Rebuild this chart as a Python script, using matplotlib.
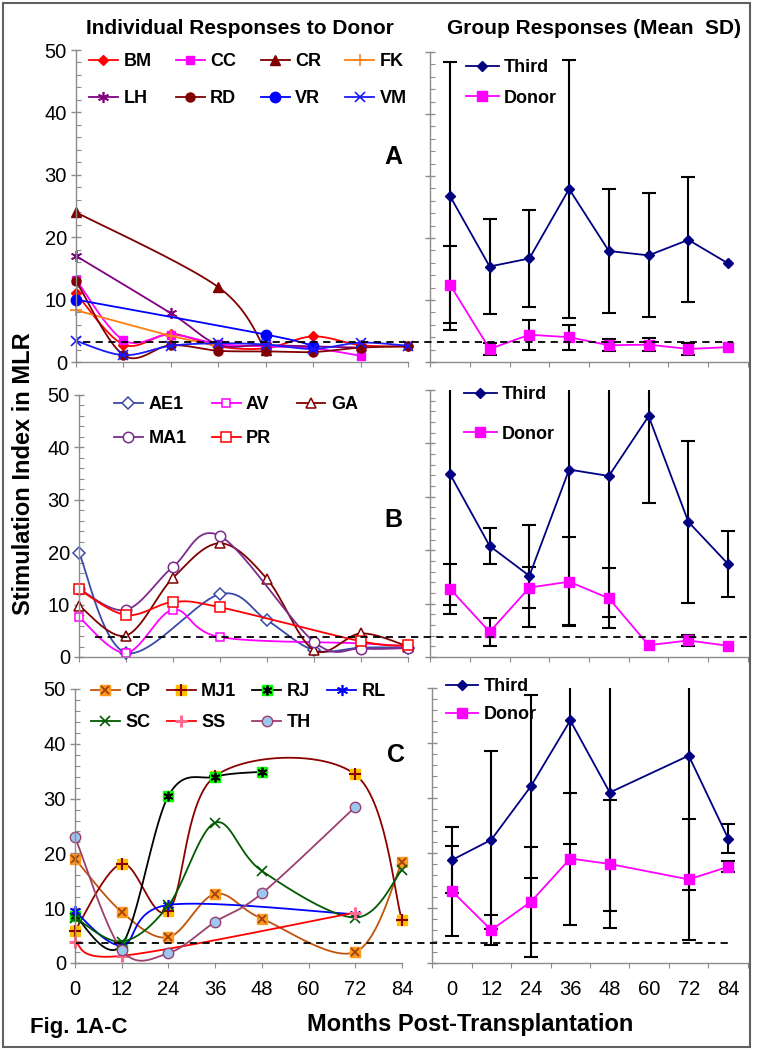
import numpy as np
import matplotlib
matplotlib.use("Agg")
import matplotlib.pyplot as plt
from matplotlib.lines import Line2D
from matplotlib.patches import Rectangle

plt.rcParams["font.family"] = ["Liberation Sans", "DejaVu Sans"]

# ---------------- data ----------------
months = [0, 12, 24, 36, 48, 60, 72, 84]

# Panel A, individual responses to donor
a_names = ["BM", "CC", "CR", "FK", "LH", "RD", "VR", "VM"]
a_months = [
    [0, 12, 24, 36, 48, 60, 72, 84],
    [0, 12, 24, 36, 48, 60, 72],
    [0, 36, 48],
    [0, 24, 36],
    [0, 24, 36, 48, 72],
    [0, 12, 24, 36, 48, 60, 72, 84],
    [0, 48, 60],
    [0, 12, 24, 36, 48, 60, 72, 84],
]
a_values = [
    [11.0, 2.8, 4.5, 2.5, 2.2, 4.1, 2.7, 2.5],
    [13.2, 3.5, 4.4, 2.9, 2.5, 2.2, 1.0],
    [24.0, 12.0, 1.9],
    [8.3, 4.2, 2.6],
    [17.0, 7.8, 2.8, 2.7, 2.3],
    [13.0, 1.1, 2.7, 1.8, 1.7, 1.6, 2.3, 2.5],
    [10.0, 4.4, 2.6],
    [3.4, 1.1, 2.6, 3.0, 2.8, 2.1, 3.1, 2.6],
]

# Panel B
b_names = ["AE1", "AV", "GA", "MA1", "PR"]
b_months = [
    [0, 12, 36, 48, 60, 72, 84],
    [0, 12, 24, 36, 72, 84],
    [0, 12, 24, 36, 48, 60, 72, 84],
    [0, 12, 24, 36, 60, 72, 84],
    [0, 12, 24, 36, 72, 84],
]
b_values = [
    [19.9, 0.8, 12.0, 7.0, 1.3, 1.8, 1.8],
    [7.6, 0.8, 9.0, 3.8, 2.6, 2.0],
    [9.8, 4.1, 15.1, 21.7, 14.9, 1.3, 4.5, 2.0],
    [13.0, 9.0, 17.2, 23.1, 2.9, 1.6, 1.7],
    [12.9, 8.0, 10.5, 9.5, 3.0, 2.2],
]

# Panel C
c_names = ["CP", "MJ1", "RJ", "RL", "SC", "SS", "TH"]
c_months = [
    [0, 12, 24, 36, 48, 72, 84],
    [0, 12, 24, 36, 72, 84],
    [0, 12, 24, 36, 48],
    [0, 12, 24, 72],
    [0, 12, 24, 36, 48, 72, 84],
    [0, 12, 72],
    [0, 12, 24, 36, 48, 72],
]
c_values = [
    [19.0, 9.3, 4.7, 12.6, 8.1, 2.0, 18.4],
    [5.9, 18.1, 9.5, 34.1, 34.4, 7.8],
    [8.6, 3.3, 30.5, 34.0, 34.9],
    [9.4, 3.2, 10.6, 8.9],
    [8.3, 3.9, 10.5, 25.6, 16.8, 8.3, 17.0],
    [3.8, 1.3, 9.2],
    [23.0, 2.4, 1.8, 7.5, 12.7, 28.5],
]

# Group responses (mean, SD); nan = no error bar drawn
a_third = [26.8, 15.4, 16.7, 27.9, 17.9, 17.2, 19.7, 15.9]
a_third_sd = [21.6, 7.6, 7.8, 20.8, 10.0, 10.0, 10.1, np.nan]
a_donor = [12.5, 2.1, 4.4, 4.0, 2.7, 2.8, 2.1, 2.4]
a_donor_sd = [6.2, 1.0, 2.4, 2.0, 1.0, 1.1, 0.9, np.nan]

b_third = [34.3, 20.8, 15.2, 35.1, 33.9, 45.1, 25.3, 17.4]
b_third_sd = [24.6, 3.4, 9.6, 29.1, 26.4, 16.3, 15.1, 6.2]
b_donor = [12.8, 4.7, 13.0, 14.1, 11.0, 2.2, 3.1, 2.1]
b_donor_sd = [4.7, 2.6, 3.8, 8.3, 5.6, np.nan, 1.1, np.nan]

c_group_months = [0, 12, 24, 36, 48, 72, 84]
c_third = [18.7, 22.4, 32.1, 44.1, 31.0, 37.7, 22.6]
c_third_sd = [6.0, 16.2, 16.6, 22.5, 21.5, 24.4, 2.6]
c_donor = [13.1, 6.0, 11.1, 19.0, 18.0, 15.2, 17.5]
c_donor_sd = [8.1, 2.8, 10.0, 12.0, 11.6, 11.0, 1.0]

# cutoff (dashed line) per panel
cutoffs = [3.2, 3.8, 3.6]

# ---------------- styles ----------------
styles = {
    "BM": dict(color="#FF0000", marker="D", ms=5, mfc="#FF0000"),
    "CC": dict(color="#FF00FF", marker="s", ms=6, mfc="#FF00FF"),
    "CR": dict(color="#800000", marker="^", ms=7, mfc="#800000"),
    "FK": dict(color="#FF7F10", marker="+", ms=8, mew=1.2),
    "LH": dict(color="#800080", marker=(6, 2, 0), ms=8, mew=1.2),
    "RD": dict(color="#800000", marker="o", ms=6.5, mfc="#800000"),
    "VR": dict(color="#0000FF", marker="o", ms=7.5, mfc="#0000FF"),
    "VM": dict(color="#1A1AFF", marker="x", ms=6.5, mew=1.2),
    "AE1": dict(color="#3A4AA8", marker="D", ms=6, mfc="white", mew=1.1),
    "AV": dict(color="#FF00FF", marker="s", ms=6, mfc="white", mew=1.1),
    "GA": dict(color="#800000", marker="^", ms=7, mfc="white", mew=1.1),
    "MA1": dict(color="#7B2C8C", marker="o", ms=7.5, mfc="white", mew=1.1),
    "PR": dict(color="#FF0000", marker="s", ms=7.5, mfc="white", mew=1.1),
    "CP": dict(color="#C0540C", marker="s", ms=7, mfc="#FF9A1F", mec="#FF9A1F"),
    "MJ1": dict(color="#8B0000", marker="s", ms=7, mfc="#FFC000", mec="#FFC000"),
    "RJ": dict(color="#000000", marker="s", ms=7, mfc="#00FF00", mec="#00FF00"),
    "RL": dict(color="#0000FF", marker=(6, 2, 0), ms=8, mew=1.2),
    "SC": dict(color="#005A00", marker="x", ms=7, mew=1.2),
    "SS": dict(color="#FF0000", marker="+", ms=8, mew=2.2, mec="#FF6A8F"),
    "TH": dict(color="#9C3F6E", marker="o", ms=7.5, mfc="#9CC8F0", mec="#9C3F6E"),
}
overlays = {
    "CP": dict(marker="x", ms=6, mew=1.3, color="#A0400A"),
    "MJ1": dict(marker="+", ms=8, mew=1.5, color="#8B0000"),
    "RJ": dict(marker=(6, 2, 0), ms=7, mew=1.3, color="#000000"),
}

W, H = 757, 1050
fig = plt.figure(figsize=(W / 100, H / 100), dpi=100)
GRAY = "#8C8C8C"


def box(x0, x1, top, bottom):
    return [x0 / W, 1 - bottom / H, (x1 - x0) / W, (bottom - top) / H]


def fpos(x, y):
    return x / W, 1 - y / H


def smooth(x, y, n=30):
    # Excel-like smoothed line (Catmull-Rom as cubic Bezier)
    x = np.asarray(x, float)
    y = np.asarray(y, float)
    if len(x) < 3:
        return x, y
    P = np.column_stack([x, y])
    Q = np.vstack([P[0], P, P[-1]])
    t = np.linspace(0, 1, n)[:, None]
    out = []
    for i in range(len(P) - 1):
        p0, p3 = P[i], P[i + 1]
        c1 = p0 + (Q[i + 2] - Q[i]) / 6
        c2 = p3 - (Q[i + 3] - Q[i + 1]) / 6
        seg = ((1 - t) ** 3) * p0 + 3 * ((1 - t) ** 2) * t * c1 + 3 * (1 - t) * t ** 2 * c2 + t ** 3 * p3
        out.append(seg if i == 0 else seg[1:])
    out = np.vstack(out)
    return out[:, 0], out[:, 1]


def base_axis(ax, ylabels):
    for s in ["top", "right"]:
        ax.spines[s].set_visible(False)
    for s in ["left", "bottom"]:
        ax.spines[s].set_color(GRAY)
        ax.spines[s].set_linewidth(1.0)
    ax.set_ylim(0, 50)
    ax.set_yticks(range(0, 51, 10))
    ax.set_yticks(range(0, 51, 2), minor=True)
    ax.tick_params(axis="y", which="major", direction="inout", length=7, width=1,
                   color=GRAY, labelsize=14.5, labelleft=ylabels, pad=3)
    ax.tick_params(axis="y", which="minor", direction="in", length=3.5, width=0.8, color=GRAY)
    ax.set_facecolor("none")


def left_panel(ax, names, mlist, vlist, xlabels, legend_xy, ncol, lab_sp, col_sp):
    base_axis(ax, True)
    ax.set_xlim(0, 84)
    ax.set_xticks(months)
    ax.tick_params(axis="x", which="major", direction="out", length=3.5, color=GRAY,
                   labelsize=14.5, labelbottom=xlabels, pad=9)
    handles = []
    for name, mx, vy in zip(names, mlist, vlist):
        st = dict(styles[name])
        color = st.pop("color")
        sx, sy = smooth(mx, vy)
        ax.plot(sx, sy, color=color, lw=1.3, clip_on=False)
        st.setdefault("mec", color)
        ax.plot(mx, vy, ls="none", clip_on=False, **st)
        h = Line2D([], [], color=color, lw=1.3, **st)
        if name in overlays:
            ov = dict(overlays[name])
            oc = ov.pop("color")
            ax.plot(mx, vy, ls="none", color=oc, clip_on=False, **ov)
            h = (h, Line2D([], [], ls="none", color=oc, **ov))
        handles.append(h)
    rows = -(-len(names) // ncol)
    order = [r * ncol + c for c in range(ncol) for r in range(rows) if r * ncol + c < len(names)]
    ax.legend([handles[i] for i in order], [names[i] for i in order], ncol=ncol,
              loc="upper left", bbox_to_anchor=fpos(*legend_xy), bbox_transform=fig.transFigure,
              frameon=False, borderpad=0, borderaxespad=0, handlelength=1.6,
              handletextpad=0.3, columnspacing=col_sp, labelspacing=lab_sp,
              prop=dict(weight="bold", size=13))


def right_panel(ax, gm, third, third_sd, donor, donor_sd, xlabels, legend_xy, lab_sp):
    base_axis(ax, False)
    ax.set_xlim(-6, 90)
    ax.set_xticks(range(-6, 91, 12))
    ax.tick_params(axis="x", which="major", direction="out", length=3.5, color=GRAY,
                   labelbottom=False)
    ax.set_xticks(months, minor=True)
    ax.tick_params(axis="x", which="minor", length=0, labelsize=14.5, labelbottom=xlabels, pad=12)
    if xlabels:
        ax.set_xticklabels([str(m) for m in months], minor=True)
    gm = np.asarray(gm, float)
    for mean, sd in [(third, third_sd), (donor, donor_sd)]:
        mean = np.asarray(mean, float)
        sd = np.asarray(sd, float)
        ok = ~np.isnan(sd)
        ax.errorbar(gm[ok], mean[ok], yerr=sd[ok], fmt="none", ecolor="black",
                    elinewidth=1.5, capsize=5, capthick=1.5, zorder=2)
    ax.plot(gm, third, color="#000080", lw=1.3, marker="D", ms=5.5, zorder=3, label="Third")
    ax.plot(gm, donor, color="#FF00FF", lw=1.3, marker="s", ms=7, zorder=3, label="Donor")
    ax.legend(loc="upper left", bbox_to_anchor=fpos(*legend_xy), bbox_transform=fig.transFigure,
              frameon=False, borderpad=0, borderaxespad=0, handlelength=1.8,
              handletextpad=0.3, labelspacing=lab_sp, prop=dict(weight="bold", size=13))


axA = fig.add_axes(box(76, 408, 50, 362))
axA2 = fig.add_axes(box(430, 748, 52, 362))
axB = fig.add_axes(box(79, 408, 395, 657))
axB2 = fig.add_axes(box(430, 748, 390, 657))
axC = fig.add_axes(box(75, 402, 689, 963))
axC2 = fig.add_axes(box(432, 748, 688, 963))

left_panel(axA, a_names, a_months, a_values, False, (89, 53), 4, 1.1, 1.35)
left_panel(axB, b_names, b_months, b_values, False, (114, 396), 3, 0.95, 1.4)
left_panel(axC, c_names, c_months, c_values, True, (91, 683), 4, 0.8, 0.9)

right_panel(axA2, months, a_third, a_third_sd, a_donor, a_donor_sd, False, (466, 59), 0.75)
right_panel(axB2, months, b_third, b_third_sd, b_donor, b_donor_sd, False, (464, 386), 1.25)
right_panel(axC2, c_group_months, c_third, c_third_sd, c_donor, c_donor_sd, True, (446, 678), 0.62)

# dashed cutoff lines running across both panels
inv = fig.transFigure.inverted()
for ax, cut, (x0, x1) in zip([axA, axB, axC], cutoffs, [(83, 733), (95, 748), (76, 730)]):
    fy = inv.transform(ax.transData.transform((0, cut)))[1]
    fig.add_artist(Line2D([x0 / W, x1 / W], [fy, fy], transform=fig.transFigure,
                          color="black", lw=1.3, ls=(0, (4, 3)), zorder=5))

# texts
fig.text(*fpos(240, 29), "Individual Responses to Donor", ha="center", va="center",
         fontsize=15, weight="bold")
fig.text(*fpos(594, 29), "Group Responses (Mean  SD)", ha="center", va="center",
         fontsize=15, weight="bold")
for letter, xy in zip(["A", "B", "C"], [(393, 157), (393, 520), (396, 755)]):
    fig.text(*fpos(*xy), letter, ha="center", va="center", fontsize=18, weight="bold")
fig.text(*fpos(24, 474), "Stimulation Index in MLR", rotation=90, ha="center", va="center",
         fontsize=17, weight="bold")
fig.text(*fpos(30, 1027), "Fig. 1A-C", ha="left", va="center", fontsize=16, weight="bold")
fig.text(*fpos(470, 1025), "Months Post-Transplantation", ha="center", va="center",
         fontsize=17, weight="bold")

fig.add_artist(Rectangle((3 / W, 1 - 1047 / H), 747 / W, 1044 / H, transform=fig.transFigure,
                         fill=False, edgecolor="#606060", lw=1.5))

fig.savefig("out.png", dpi=100)
